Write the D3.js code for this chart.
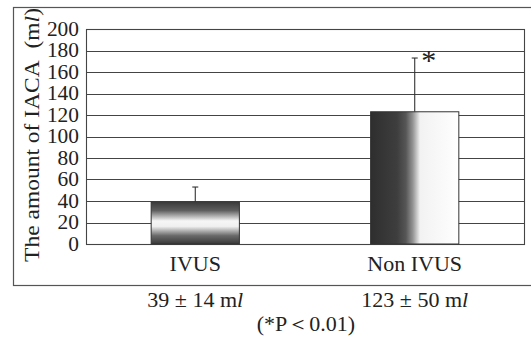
<!DOCTYPE html>
<html>
<head>
<meta charset="utf-8">
<script src="https://cdn.jsdelivr.net/npm/d3@7"></script>
<style>
  html, body { margin: 0; padding: 0; background: #fff; }
  svg text { font-family: "Liberation Serif", "DejaVu Serif", serif; fill: #222; }
</style>
</head>
<body>
<div id="chart"></div>
<script>
// Data
const groups = ["IVUS", "Non IVUS"];
const means = [39, 123];
const sds = [14, 50];
const summaries = ["39 ± 14 m", "123 ± 50 m"];
const yTicks = [0, 20, 40, 60, 80, 100, 120, 140, 160, 180, 200];

const width = 531, height = 349;
const plot = { left: 86, right: 524, top: 29, bottom: 244 };

const svg = d3.select("#chart").append("svg")
    .attr("width", width)
    .attr("height", height);

// Gradients for the two bars
const defs = svg.append("defs");
const gV = defs.append("linearGradient").attr("id", "gradV")
    .attr("x1", 0).attr("y1", 0).attr("x2", 0).attr("y2", 1);
[[0, "#3a3a3a"], [0.2, "#5e5e5e"], [0.45, "#f6f6f6"], [0.58, "#f0f0f0"], [0.8, "#6a6a6a"], [1, "#383838"]]
    .forEach(s => gV.append("stop").attr("offset", s[0]).attr("stop-color", s[1]));
const gH = defs.append("linearGradient").attr("id", "gradH")
    .attr("x1", 0).attr("y1", 0).attr("x2", 1).attr("y2", 0);
[[0, "#2e2e2e"], [0.3, "#3e3e3e"], [0.4, "#565656"], [0.48, "#959595"], [0.56, "#f2f2f2"], [1, "#ffffff"]]
    .forEach(s => gH.append("stop").attr("offset", s[0]).attr("stop-color", s[1]));

// Outer frame
svg.append("rect")
    .attr("x", 13.5).attr("y", 7.5)
    .attr("width", 540).attr("height", 278)
    .attr("fill", "none")
    .attr("stroke", "#555")
    .attr("stroke-width", 1.2);

const x = d3.scaleBand()
    .domain(groups)
    .range([plot.left, plot.right])
    .paddingInner(0.598)
    .paddingOuter(0.297);

const y = d3.scaleLinear()
    .domain([0, 200])
    .range([plot.bottom, plot.top]);

// Gridlines
svg.append("g")
    .selectAll("line")
    .data(yTicks)
    .enter().append("line")
    .attr("x1", plot.left).attr("x2", plot.right)
    .attr("y1", d => Math.round(y(d)) + 0.5)
    .attr("y2", d => Math.round(y(d)) + 0.5)
    .attr("stroke", "#444")
    .attr("stroke-width", 1.1);

// Plot border
svg.append("rect")
    .attr("x", plot.left + 0.5).attr("y", Math.round(y(200)) + 0.5)
    .attr("width", plot.right - plot.left)
    .attr("height", Math.round(y(0)) - Math.round(y(200)))
    .attr("fill", "none")
    .attr("stroke", "#444")
    .attr("stroke-width", 1.1);

// Error bars (upper only)
const err = svg.append("g").selectAll("g")
    .data(groups)
    .enter().append("g");
err.append("line")
    .attr("x1", d => x(d) + x.bandwidth() / 2)
    .attr("x2", d => x(d) + x.bandwidth() / 2)
    .attr("y1", (d, i) => y(means[i]))
    .attr("y2", (d, i) => y(means[i] + sds[i]))
    .attr("stroke", "#333").attr("stroke-width", 1.1);
err.append("line")
    .attr("x1", d => x(d) + x.bandwidth() / 2 - 3)
    .attr("x2", d => x(d) + x.bandwidth() / 2 + 3)
    .attr("y1", (d, i) => y(means[i] + sds[i]))
    .attr("y2", (d, i) => y(means[i] + sds[i]))
    .attr("stroke", "#333").attr("stroke-width", 1.1);

// Bars
svg.append("g").selectAll("rect")
    .data(groups)
    .enter().append("rect")
    .attr("x", d => x(d))
    .attr("y", (d, i) => y(means[i]))
    .attr("width", x.bandwidth())
    .attr("height", (d, i) => y(0) - y(means[i]))
    .attr("fill", (d, i) => i === 0 ? "url(#gradV)" : "url(#gradH)")
    .attr("stroke", "#333")
    .attr("stroke-width", 1);

// Significance asterisk
svg.append("text")
    .attr("x", x(groups[1]) + x.bandwidth() / 2 + 14)
    .attr("y", y(means[1] + sds[1]) + 12)
    .attr("text-anchor", "middle")
    .style("font-size", "30px")
    .text("*");

// Y tick labels
svg.append("g").selectAll("text")
    .data(yTicks)
    .enter().append("text")
    .attr("x", 79)
    .attr("y", d => y(d) + 6.5)
    .attr("text-anchor", "end")
    .style("font-size", "20px")
    .attr("textLength", d => String(d).length * 10.7)
    .attr("lengthAdjust", "spacingAndGlyphs")
    .text(d => d);

// Y axis title
const yt = svg.append("text")
    .attr("transform", "translate(39,135) rotate(-90)")
    .attr("text-anchor", "middle")
    .style("font-size", "22px")
    .attr("textLength", 254)
    .attr("lengthAdjust", "spacingAndGlyphs");
yt.append("tspan").text("The amount of IACA\u2002(m");
yt.append("tspan").style("font-style", "italic").text("l");
yt.append("tspan").text(")");

// Category labels
svg.append("g").selectAll("text")
    .data(groups)
    .enter().append("text")
    .attr("x", d => x(d) + x.bandwidth() / 2)
    .attr("y", 271)
    .attr("text-anchor", "middle")
    .style("font-size", "22px")
    .text(d => d);

// Summary values under the frame
const sm = svg.append("g").selectAll("text")
    .data(groups)
    .enter().append("text")
    .attr("x", d => x(d) + x.bandwidth() / 2)
    .attr("y", 307)
    .attr("text-anchor", "middle")
    .style("font-size", "22px");
sm.append("tspan").text((d, i) => summaries[i]);
sm.append("tspan").style("font-style", "italic").text("l");

svg.append("text")
    .attr("x", 306)
    .attr("y", 331)
    .attr("text-anchor", "middle")
    .style("font-size", "22px")
    .text("(*P\uFF1C0.01)");
</script>
</body>
</html>
